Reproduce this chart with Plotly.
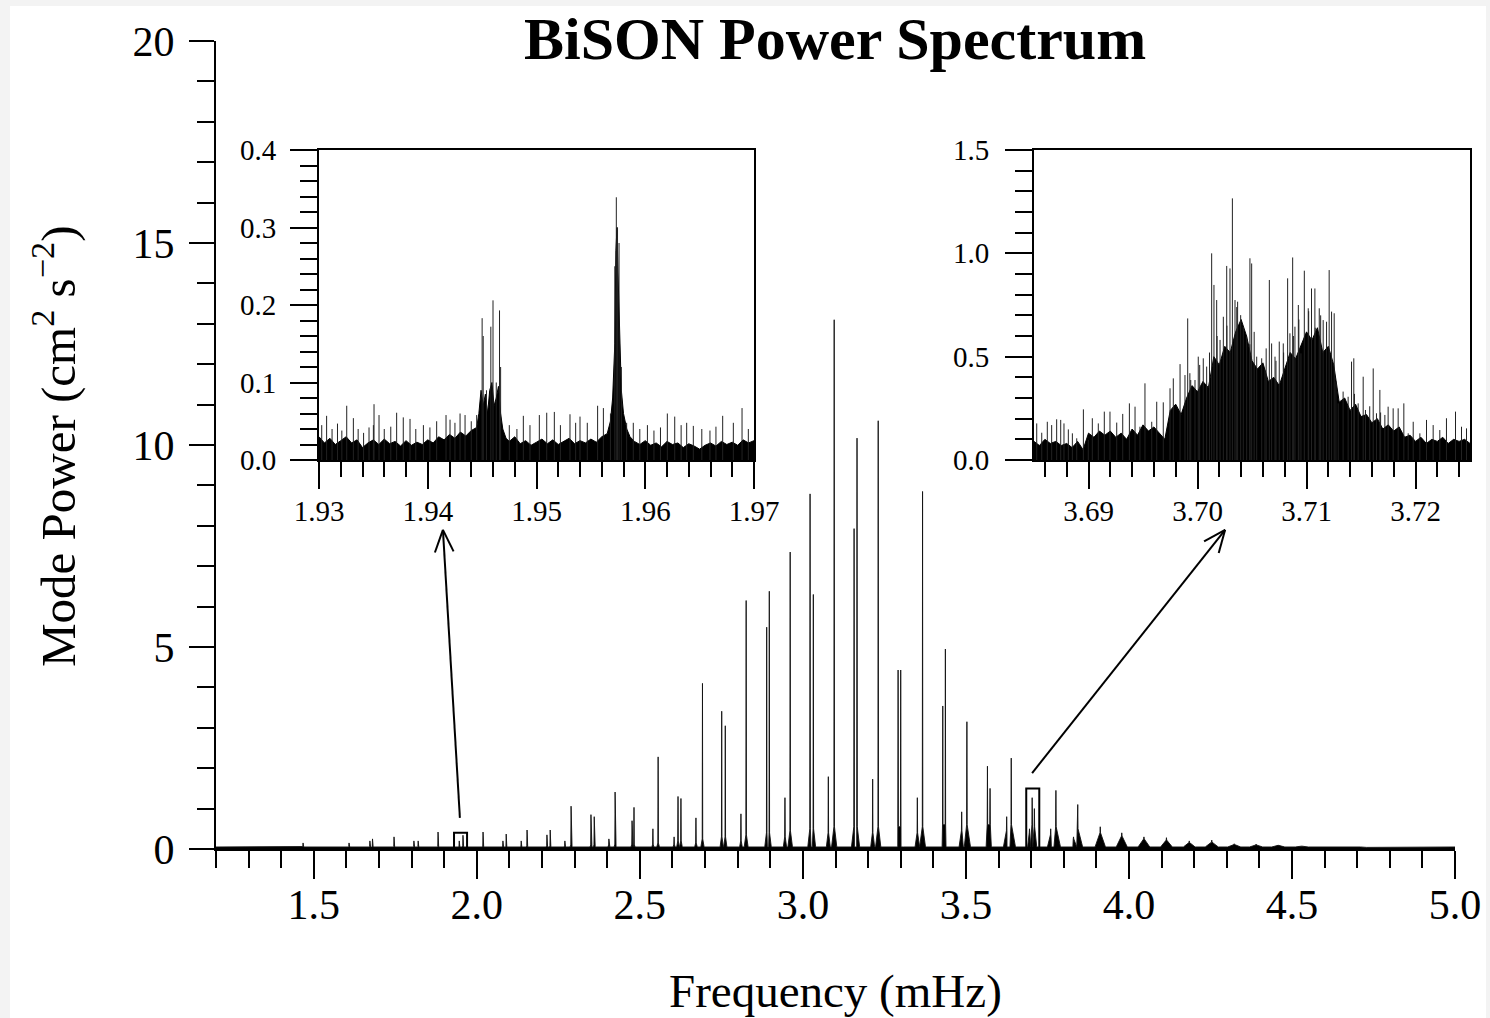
import plotly.graph_objects as go
import math

W, H = 1490, 1018

# ---------------- data ----------------
# main spectrum: mode frequency (mHz), peak power, height of the broad base, base half-width (mHz)
main_freq = [1.467, 1.608, 1.672, 1.680, 1.746, 1.807, 1.820, 1.881, 1.9460, 1.9575,
             2.019, 2.080, 2.090, 2.136, 2.154, 2.215, 2.225, 2.270, 2.289, 2.350,
             2.360, 2.405, 2.424, 2.476, 2.482, 2.540, 2.556, 2.605, 2.617, 2.626,
             2.672, 2.692, 2.751, 2.762, 2.810, 2.826, 2.889, 2.897, 2.945, 2.961,
             3.022, 3.032, 3.078, 3.096, 3.157, 3.166, 3.214, 3.231, 3.292, 3.300,
             3.351, 3.367, 3.429, 3.437, 3.487, 3.503, 3.566, 3.574, 3.625, 3.639,
             3.695, 3.7032, 3.710, 3.760, 3.776, 3.830, 3.843, 3.912, 3.978, 4.046,
             4.115, 4.185, 4.254, 4.323, 4.390, 4.458, 4.530, 4.596, 4.660, 4.730]
main_power = [0.15, 0.15, 0.20, 0.25, 0.30, 0.20, 0.20, 0.42, 0.20, 0.34,
              0.42, 0.20, 0.37, 0.20, 0.47, 0.35, 0.47, 0.20, 1.06, 0.85,
              0.80, 0.25, 1.41, 0.70, 1.03, 0.50, 2.28, 0.30, 1.30, 1.25,
              0.77, 4.10, 3.41, 3.05, 0.87, 6.15, 5.49, 6.38, 1.27, 7.35,
              8.79, 6.30, 1.79, 13.1, 7.93, 10.17, 1.73, 10.6, 4.43, 4.43,
              1.27, 8.85, 3.54, 4.95, 0.92, 3.15, 2.05, 1.50, 0.80, 2.25,
              0.50, 1.27, 1.00, 0.50, 1.45, 0.30, 1.10, 0.55, 0.40, 0.30,
              0.28, 0.20, 0.22, 0.13, 0.12, 0.10, 0.07, 0.06, 0.05, 0.04]
main_base = [0.06, 0.06, 0.06, 0.06, 0.06, 0.06, 0.06, 0.06, 0.07, 0.08,
             0.07, 0.07, 0.07, 0.07, 0.08, 0.08, 0.08, 0.08, 0.10, 0.10,
             0.10, 0.10, 0.12, 0.12, 0.12, 0.12, 0.15, 0.12, 0.20, 0.20,
             0.15, 0.25, 0.30, 0.30, 0.20, 0.35, 0.40, 0.40, 0.30, 0.45,
             0.50, 0.50, 0.40, 0.55, 0.55, 0.55, 0.40, 0.55, 0.55, 0.55,
             0.40, 0.55, 0.60, 0.60, 0.45, 0.60, 0.60, 0.60, 0.45, 0.60,
             0.40, 0.60, 0.55, 0.35, 0.55, 0.25, 0.50, 0.40, 0.32, 0.25,
             0.22, 0.16, 0.17, 0.11, 0.10, 0.09, 0.07, 0.06, 0.05, 0.04]
main_halfwidth = [0.002, 0.002, 0.002, 0.002, 0.002, 0.002, 0.002, 0.002, 0.002, 0.002,
                  0.002, 0.002, 0.002, 0.002, 0.002, 0.002, 0.002, 0.002, 0.003, 0.003,
                  0.003, 0.003, 0.003, 0.003, 0.003, 0.003, 0.004, 0.003, 0.004, 0.004,
                  0.004, 0.005, 0.005, 0.005, 0.004, 0.006, 0.006, 0.006, 0.005, 0.007,
                  0.007, 0.007, 0.006, 0.008, 0.008, 0.008, 0.006, 0.008, 0.009, 0.009,
                  0.007, 0.009, 0.010, 0.010, 0.008, 0.011, 0.012, 0.012, 0.010, 0.013,
                  0.010, 0.014, 0.012, 0.010, 0.014, 0.010, 0.015, 0.016, 0.017, 0.018,
                  0.018, 0.018, 0.020, 0.020, 0.020, 0.020, 0.020, 0.020, 0.020, 0.020]
NOISE_FLOOR = 0.05

# inset 1 (1.93 - 1.97 mHz): dense noise band (envelope) and the taller individual spikes
inset1_range_x = [1.93, 1.97]
inset1_range_y = [0.0, 0.4]
inset1_env_freq = [1.9300, 1.9305, 1.9310, 1.9315, 1.9320, 1.9325, 1.9330, 1.9335, 1.9340, 1.9345,
                   1.9350, 1.9355, 1.9360, 1.9365, 1.9370, 1.9375, 1.9380, 1.9385, 1.9390, 1.9395,
                   1.9400, 1.9405, 1.9410, 1.9415, 1.9420, 1.9425, 1.9430, 1.9435, 1.9440, 1.9445,
                   1.9447, 1.9449, 1.9451, 1.9453, 1.9455, 1.9457, 1.9459, 1.9461, 1.9463, 1.9465,
                   1.9467, 1.9469, 1.9472, 1.9475, 1.9480, 1.9485, 1.9490, 1.9495, 1.9500, 1.9505,
                   1.9510, 1.9515, 1.9520, 1.9525, 1.9530, 1.9535, 1.9540, 1.9545, 1.9550, 1.9555,
                   1.9560, 1.9565, 1.9568, 1.9570, 1.9572, 1.9573, 1.9574, 1.9575, 1.9576, 1.9578,
                   1.9580, 1.9583, 1.9586, 1.9590, 1.9595, 1.9600, 1.9605, 1.9610, 1.9615, 1.9620,
                   1.9625, 1.9630, 1.9635, 1.9640, 1.9645, 1.9650, 1.9655, 1.9660, 1.9665, 1.9670,
                   1.9675, 1.9680, 1.9685, 1.9690, 1.9695, 1.9700]
inset1_env_power = [0.030, 0.022, 0.028, 0.020, 0.025, 0.030, 0.022, 0.026, 0.016, 0.022,
                    0.026, 0.020, 0.027, 0.021, 0.024, 0.018, 0.025, 0.019, 0.023, 0.020,
                    0.026, 0.022, 0.030, 0.026, 0.033, 0.028, 0.036, 0.031, 0.038, 0.042,
                    0.060, 0.090, 0.070, 0.085, 0.060, 0.090, 0.100, 0.070, 0.080, 0.095,
                    0.060, 0.040, 0.028, 0.024, 0.030, 0.021, 0.025, 0.019, 0.023, 0.027,
                    0.021, 0.026, 0.020, 0.024, 0.028, 0.021, 0.025, 0.022, 0.027, 0.023,
                    0.030, 0.034, 0.050, 0.080, 0.150, 0.270, 0.300, 0.240, 0.180, 0.090,
                    0.060, 0.040, 0.030, 0.024, 0.020, 0.025, 0.019, 0.022, 0.017, 0.024,
                    0.020, 0.022, 0.016, 0.021, 0.018, 0.014, 0.019, 0.022, 0.018, 0.024,
                    0.020, 0.023, 0.019, 0.026, 0.022, 0.025]
inset1_spike_freq = [1.93025, 1.9307, 1.9312, 1.9317, 1.9321, 1.93255, 1.93316, 1.9336, 1.9341, 1.9346,
                     1.9350, 1.93506, 1.93552, 1.9360, 1.9366, 1.93714, 1.93775, 1.93837, 1.9389, 1.9396,
                     1.9402, 1.94082, 1.94168, 1.94205, 1.9425, 1.94297, 1.94343, 1.9440, 1.9445, 1.9450,
                     1.9451, 1.9454, 1.9458, 1.9460, 1.9463, 1.9466, 1.9467, 1.9475, 1.9482, 1.94879,
                     1.9494, 1.95026, 1.95094, 1.95164, 1.9522, 1.95308, 1.9536, 1.9540, 1.95467, 1.95562,
                     1.95615, 1.9568, 1.9572, 1.95734, 1.95745, 1.95759, 1.9578, 1.95829, 1.9589, 1.9595,
                     1.9602, 1.9608, 1.9614, 1.96203, 1.96271, 1.9633, 1.96381, 1.96442, 1.9652, 1.96595,
                     1.9665, 1.96712, 1.9681, 1.9689, 1.96948]
inset1_spike_power = [0.045, 0.057, 0.040, 0.047, 0.038, 0.070, 0.054, 0.040, 0.035, 0.042,
                      0.045, 0.072, 0.058, 0.040, 0.043, 0.061, 0.055, 0.053, 0.040, 0.045,
                      0.042, 0.050, 0.058, 0.052, 0.048, 0.060, 0.058, 0.050, 0.058, 0.183,
                      0.160, 0.090, 0.172, 0.206, 0.100, 0.193, 0.120, 0.045, 0.040, 0.057,
                      0.045, 0.058, 0.061, 0.062, 0.045, 0.059, 0.048, 0.056, 0.048, 0.070,
                      0.067, 0.060, 0.250, 0.339, 0.300, 0.280, 0.120, 0.048, 0.048, 0.040,
                      0.045, 0.038, 0.042, 0.060, 0.056, 0.045, 0.048, 0.044, 0.040, 0.038,
                      0.043, 0.057, 0.048, 0.067, 0.040]

# inset 2 (3.685 - 3.725 mHz)
inset2_range_x = [3.685, 3.725]
inset2_range_y = [0.0, 1.5]
inset2_env_freq = [3.6850, 3.6855, 3.6860, 3.6865, 3.6870, 3.6875, 3.6880, 3.6885, 3.6890, 3.6895,
                   3.6900, 3.6905, 3.6910, 3.6915, 3.6920, 3.6925, 3.6930, 3.6935, 3.6940, 3.6945,
                   3.6950, 3.6955, 3.6960, 3.6965, 3.6970, 3.6975, 3.6980, 3.6985, 3.6990, 3.6995,
                   3.7000, 3.7005, 3.7010, 3.7015, 3.7020, 3.7025, 3.7030, 3.7035, 3.7040, 3.7045,
                   3.7050, 3.7055, 3.7060, 3.7065, 3.7070, 3.7075, 3.7080, 3.7085, 3.7090, 3.7095,
                   3.7100, 3.7105, 3.7110, 3.7115, 3.7120, 3.7125, 3.7130, 3.7135, 3.7140, 3.7145,
                   3.7150, 3.7155, 3.7160, 3.7165, 3.7170, 3.7175, 3.7180, 3.7185, 3.7190, 3.7195,
                   3.7200, 3.7205, 3.7210, 3.7215, 3.7220, 3.7225, 3.7230, 3.7235, 3.7240, 3.7245,
                   3.7250]
inset2_env_power = [0.09, 0.07, 0.10, 0.08, 0.09, 0.07, 0.08, 0.06, 0.09, 0.05,
                    0.13, 0.11, 0.14, 0.12, 0.14, 0.11, 0.13, 0.10, 0.15, 0.12,
                    0.17, 0.14, 0.16, 0.13, 0.10, 0.24, 0.27, 0.22, 0.30, 0.36,
                    0.33, 0.38, 0.35, 0.50, 0.46, 0.55, 0.52, 0.62, 0.68, 0.60,
                    0.48, 0.44, 0.47, 0.38, 0.40, 0.36, 0.44, 0.52, 0.49, 0.56,
                    0.62, 0.58, 0.64, 0.52, 0.55, 0.46, 0.28, 0.30, 0.24, 0.27,
                    0.21, 0.22, 0.18, 0.20, 0.15, 0.17, 0.14, 0.16, 0.11, 0.12,
                    0.09, 0.11, 0.08, 0.10, 0.09, 0.11, 0.08, 0.10, 0.09, 0.10,
                    0.08]
inset2_spike_freq = [3.68525, 3.68571, 3.68622, 3.68662, 3.68708, 3.68745, 3.68775, 3.68815, 3.68852, 3.68892,
                     3.68953, 3.68998, 3.69035, 3.6909, 3.69145, 3.69197, 3.69259, 3.69314, 3.69375, 3.69427,
                     3.69472, 3.69518, 3.6958, 3.69626, 3.69686, 3.69748, 3.69778, 3.6984, 3.69885, 3.6991,
                     3.69938, 3.69977, 3.70007, 3.70053, 3.70084, 3.7013, 3.70151, 3.70176, 3.70207, 3.70237,
                     3.70268, 3.70298, 3.7032, 3.70344, 3.70368, 3.70396, 3.7042, 3.70451, 3.70481, 3.70497,
                     3.70543, 3.70589, 3.70619, 3.70659, 3.7068, 3.70711, 3.7075, 3.70787, 3.70827, 3.70848,
                     3.70873, 3.70894, 3.70925, 3.70949, 3.7098, 3.71016, 3.71046, 3.71077, 3.71117, 3.71153,
                     3.71184, 3.71208, 3.7123, 3.71254, 3.71291, 3.71336, 3.71382, 3.71413, 3.71434, 3.71474,
                     3.7152, 3.71541, 3.71612, 3.71642, 3.71673, 3.71719, 3.71749, 3.71795, 3.71841, 3.71893,
                     3.71933, 3.71979, 3.7204, 3.72101, 3.72162, 3.72223, 3.72284, 3.72367, 3.72422, 3.72468,
                     3.6993, 3.7002, 3.7011, 3.7018, 3.7027, 3.7036, 3.7048, 3.7052, 3.7063, 3.7072,
                     3.7079, 3.7088, 3.7093, 3.7102, 3.7108, 3.7113, 3.7127, 3.7144, 3.7158, 3.7168]
inset2_spike_power = [0.177, 0.132, 0.185, 0.169, 0.197, 0.194, 0.177, 0.148, 0.129, 0.105,
                      0.245, 0.097, 0.202, 0.177, 0.234, 0.234, 0.181, 0.223, 0.274, 0.258,
                      0.161, 0.371, 0.185, 0.282, 0.279, 0.347, 0.395, 0.464, 0.411, 0.685,
                      0.387, 0.387, 0.500, 0.492, 0.452, 1.000, 0.847, 0.774, 0.581, 0.693,
                      0.939, 0.927, 1.266, 0.774, 0.766, 0.701, 0.645, 0.597, 0.976, 0.951,
                      0.500, 0.492, 0.435, 0.871, 0.564, 0.500, 0.573, 0.564, 0.879, 0.613,
                      0.980, 0.645, 0.750, 0.516, 0.916, 0.734, 0.830, 0.830, 0.734, 0.677,
                      0.669, 0.919, 0.718, 0.710, 0.274, 0.331, 0.306, 0.476, 0.492, 0.274,
                      0.403, 0.242, 0.443, 0.226, 0.339, 0.218, 0.258, 0.250, 0.250, 0.274,
                      0.129, 0.185, 0.129, 0.194, 0.169, 0.145, 0.202, 0.234, 0.161, 0.153,
                      0.420, 0.460, 0.520, 0.600, 0.650, 0.740, 0.560, 0.620, 0.540, 0.480,
                      0.520, 0.600, 0.680, 0.720, 0.640, 0.700, 0.380, 0.320, 0.260, 0.230]

main_x_range = [1.2, 5.0]
main_y_range = [0, 20]
main_x_ticks = [1.5, 2.0, 2.5, 3.0, 3.5, 4.0, 4.5, 5.0]
main_x_labels = ["1.5", "2.0", "2.5", "3.0", "3.5", "4.0", "4.5", "5.0"]
main_y_ticks = [0, 5, 10, 15, 20]
main_y_labels = ["0", "5", "10", "15", "20"]
inset1_x_ticks = [1.93, 1.94, 1.95, 1.96, 1.97]
inset1_y_ticks = [0.0, 0.1, 0.2, 0.3, 0.4]
inset2_x_ticks = [3.69, 3.70, 3.71, 3.72]
inset2_y_ticks = [0.0, 0.5, 1.0, 1.5]

# ---------------- layout geometry (pixels) ----------------
MAIN_L, MAIN_R, MAIN_T, MAIN_B = 216, 1455, 41, 849
IN1_L, IN1_R, IN1_T, IN1_B = 319, 754, 150, 460
IN2_L, IN2_R, IN2_T, IN2_B = 1034, 1470, 150, 460


def xdom(l, r):
    return [l / W, r / W]


def ydom(t, b):
    return [1 - b / H, 1 - t / H]


SERIF = "Liberation Serif, Times New Roman, serif"

# ---------------- traces ----------------
pts = []
for f, p, b, w in zip(main_freq, main_power, main_base, main_halfwidth):
    pts += [(f - w, NOISE_FLOOR), (f - 0.0008, b), (f, p), (f + 0.0008, b), (f + w, NOISE_FLOOR)]
pts.sort(key=lambda t: t[0])
mx = [main_x_range[0]] + [t[0] for t in pts] + [main_x_range[1]]
my = [NOISE_FLOOR] + [t[1] for t in pts] + [NOISE_FLOOR]

fig = go.Figure()
fig.add_trace(go.Scatter(x=mx, y=my, mode="lines", fill="tozeroy", fillcolor="black",
                         line=dict(color="#111", width=0.9), xaxis="x", yaxis="y",
                         showlegend=False, hoverinfo="skip"))


def spikes(freqs, powers):
    xs, ys = [], []
    for f, p in zip(freqs, powers):
        xs += [f, f, None]
        ys += [0, p, None]
    return xs, ys


for ax_x, ax_y, ef, ep, sf, sp in [("x2", "y2", inset1_env_freq, inset1_env_power, inset1_spike_freq, inset1_spike_power),
                                   ("x3", "y3", inset2_env_freq, inset2_env_power, inset2_spike_freq, inset2_spike_power)]:
    fig.add_trace(go.Scatter(x=ef, y=ep, mode="lines", fill="tozeroy", fillcolor="black",
                             line=dict(color="black", width=1), xaxis=ax_x, yaxis=ax_y,
                             showlegend=False, hoverinfo="skip"))
    sx, sy = spikes(sf, sp)
    fig.add_trace(go.Scatter(x=sx, y=sy, mode="lines", line=dict(color="#222", width=1),
                             xaxis=ax_x, yaxis=ax_y, showlegend=False, hoverinfo="skip"))

# ---------------- axes ----------------
def axis_common(fontsize):
    return dict(showgrid=False, zeroline=False, showline=True, linecolor="black", linewidth=2,
                ticks="outside", tickcolor="black", tickwidth=2, automargin=False,
                tickfont=dict(family=SERIF, size=fontsize, color="black"), fixedrange=True)


layout = dict(
    width=W, height=H, margin=dict(l=0, r=0, t=0, b=0, pad=0, autoexpand=False), autosize=False,
    paper_bgcolor="#f3f3f3", plot_bgcolor="rgba(0,0,0,0)",
    xaxis=dict(**axis_common(42), domain=xdom(MAIN_L, MAIN_R), range=main_x_range, anchor="y",
               tickvals=main_x_ticks, ticktext=main_x_labels, ticklen=28, ticklabelstandoff=-10,
               minor=dict(dtick=0.1, tick0=0, ticks="outside", ticklen=17, tickwidth=2, tickcolor="black")),
    yaxis=dict(**axis_common(42), domain=ydom(MAIN_T, MAIN_B), range=main_y_range, anchor="x",
               tickvals=main_y_ticks, ticktext=main_y_labels, ticklen=25, ticklabelstandoff=6,
               minor=dict(dtick=1, tick0=0, ticks="outside", ticklen=17, tickwidth=2, tickcolor="black")),
    xaxis2=dict(**axis_common(29), domain=xdom(IN1_L, IN1_R), range=inset1_range_x, anchor="y2", mirror=True,
                tickvals=inset1_x_ticks, tickformat=".2f", ticklen=27, ticklabelstandoff=-3,
                minor=dict(dtick=0.002, tick0=1.93, ticks="outside", ticklen=15, tickwidth=2, tickcolor="black")),
    yaxis2=dict(**axis_common(29), domain=ydom(IN1_T, IN1_B), range=inset1_range_y, anchor="x2", mirror=True,
                tickvals=inset1_y_ticks, tickformat=".1f", ticklen=27, ticklabelstandoff=8,
                minor=dict(dtick=0.02, tick0=0, ticks="outside", ticklen=17, tickwidth=2, tickcolor="black")),
    xaxis3=dict(**axis_common(29), domain=xdom(IN2_L, IN2_R), range=inset2_range_x, anchor="y3", mirror=True,
                tickvals=inset2_x_ticks, tickformat=".2f", ticklen=27, ticklabelstandoff=-3,
                minor=dict(dtick=0.002, tick0=3.69, ticks="outside", ticklen=15, tickwidth=2, tickcolor="black")),
    yaxis3=dict(**axis_common(29), domain=ydom(IN2_T, IN2_B), range=inset2_range_y, anchor="x3", mirror=True,
                tickvals=inset2_y_ticks, tickformat=".1f", ticklen=27, ticklabelstandoff=10,
                minor=dict(dtick=0.1, tick0=0, ticks="outside", ticklen=17, tickwidth=2, tickcolor="black")),
)
fig.update_layout(**layout)

# white page area with a thin grey frame
shapes = [dict(type="rect", xref="paper", yref="paper", x0=10 / W, x1=1 - 4 / W, y0=0, y1=1 - 6 / H,
               fillcolor="white", line=dict(width=0), layer="below")]

# zoom boxes on the main spectrum, built from the inset ranges
for rx, ry in [(inset1_range_x, inset1_range_y), (inset2_range_x, inset2_range_y)]:
    shapes.append(dict(type="rect", xref="x", yref="y", x0=rx[0], x1=rx[1], y0=ry[0], y1=ry[1],
                       line=dict(color="black", width=2), fillcolor="rgba(0,0,0,0)"))

# arrows (main-axis data coordinates): tail near the box, head under the inset
PXX = (MAIN_R - MAIN_L) / (main_x_range[1] - main_x_range[0])
PXY = (MAIN_B - MAIN_T) / (main_y_range[1] - main_y_range[0])
arrows = [((1.948, 0.77), (1.896, 7.9)), ((3.703, 1.88), (4.295, 7.9))]
for (tx, ty), (hx, hy) in arrows:
    shapes.append(dict(type="line", xref="x", yref="y", x0=tx, y0=ty, x1=hx, y1=hy,
                       line=dict(color="black", width=2)))
    dxp, dyp = (hx - tx) * PXX, (hy - ty) * PXY
    L = math.hypot(dxp, dyp)
    ux, uy = dxp / L, dyp / L
    for ang in (0.40, -0.40):
        c, s = math.cos(ang), math.sin(ang)
        bx = -(ux * c - uy * s) * 24
        by = -(ux * s + uy * c) * 24
        shapes.append(dict(type="line", xref="x", yref="y", x0=hx, y0=hy,
                           x1=hx + bx / PXX, y1=hy + by / PXY, line=dict(color="black", width=2)))
fig.update_layout(shapes=shapes)

annotations = [
    dict(text="<b>BiSON Power Spectrum</b>", xref="paper", yref="paper", x=835 / W, y=1 - 39 / H,
         showarrow=False, xanchor="center", yanchor="middle",
         font=dict(family=SERIF, size=60, color="black")),
    dict(text="Frequency (mHz)", xref="paper", yref="paper", x=835 / W, y=1 - 991 / H,
         showarrow=False, xanchor="center", yanchor="middle",
         font=dict(family=SERIF, size=47, color="black")),
    dict(text="Mode Power (cm<sup>2</sup> s<sup>\u22122</sup>)", xref="paper", yref="paper",
         x=54 / W, y=1 - 446 / H, textangle=-90, showarrow=False, xanchor="center", yanchor="middle",
         font=dict(family=SERIF, size=49, color="black")),
]
fig.update_layout(annotations=annotations)

fig.write_html("out.html")
